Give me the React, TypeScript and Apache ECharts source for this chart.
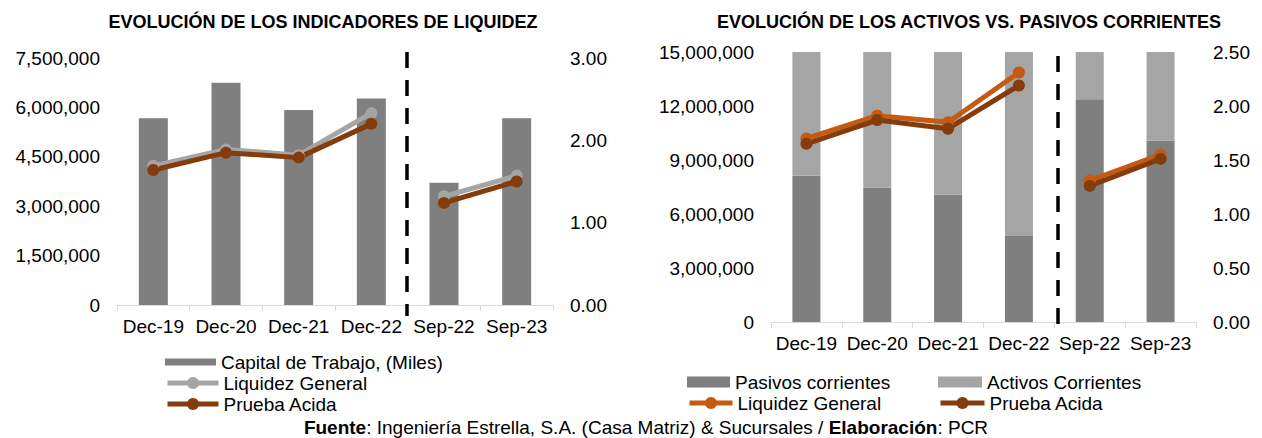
import React, { useEffect, useRef } from 'react';
import * as echarts from 'echarts';

const categories = ['Dec-19', 'Dec-20', 'Dec-21', 'Dec-22', 'Sep-22', 'Sep-23'];

// Left chart: Evolución de los indicadores de liquidez
const capitalTrabajo = [5670000, 6750000, 5920000, 6270000, 3710000, 5670000];
const liquidezGeneralL = [1.69, 1.89, 1.82, 2.33, 1.32, 1.57];
const pruebaAcidaL = [1.64, 1.85, 1.79, 2.2, 1.24, 1.5];

// Right chart: Evolución de los activos vs. pasivos corrientes
const pasivosCorrientes = [8130000, 7460000, 7090000, 4780000, 12370000, 10070000];
const activosCorrientes = [13800000, 14200000, 13100000, 11000000, 16200000, 15600000];
const liquidezGeneralR = [1.7, 1.91, 1.85, 2.31, 1.31, 1.55];
const pruebaAcidaR = [1.65, 1.87, 1.79, 2.19, 1.26, 1.51];

const titleLeft = 'EVOLUCIÓN DE LOS INDICADORES DE LIQUIDEZ';
const titleRight = 'EVOLUCIÓN DE LOS ACTIVOS VS. PASIVOS CORRIENTES';

const FONT = "'Liberation Sans', Arial, sans-serif";
const SPLIT = 4;

const before = (a: number[]) => a.map((v, i) => (i < SPLIT ? v : '-'));
const after = (a: number[]) => a.map((v, i) => (i >= SPLIT ? v : '-'));

const fmtThousands = (v: number) => Math.round(v).toLocaleString('en-US');
const fmt2 = (v: number) => v.toFixed(2);

export default function App() {
  const ref = useRef<HTMLDivElement>(null);

  useEffect(() => {
    if (!ref.current) return;
    const chart = echarts.init(ref.current, undefined, { renderer: 'svg' });

    const xAxisBase = (gridIndex: number) => ({
      type: 'category',
      gridIndex,
      data: categories,
      axisLine: { show: true, lineStyle: { color: '#D9D9D9', width: 1 } },
      axisTick: { show: true, length: 6, lineStyle: { color: '#D9D9D9' } },
      axisLabel: { fontSize: 19, color: '#000', fontFamily: FONT, margin: 12, interval: 0 },
      splitLine: { show: false },
    });

    const yAxisBase = (gridIndex: number, max: number, interval: number, formatter: any) => ({
      type: 'value',
      gridIndex,
      min: 0,
      max,
      interval,
      axisLine: { show: false },
      axisTick: { show: false },
      splitLine: { show: false },
      axisLabel: { fontSize: 19, color: '#000', fontFamily: FONT, margin: 17, formatter },
    });

    const lineSeries = (
      name: string,
      data: any[],
      color: string,
      xAxisIndex: number,
      yAxisIndex: number
    ) => ({
      type: 'line',
      name,
      data,
      xAxisIndex,
      yAxisIndex,
      symbol: 'circle',
      symbolSize: 12,
      showSymbol: true,
      connectNulls: false,
      lineStyle: { color, width: 5 },
      itemStyle: { color },
    });

    const legendItem = (name: string, left: number, cy: number, itemWidth: number, itemHeight: number, icon?: string) => {
      const lg: any = {
        data: [name],
        left,
        top: cy - 10,
        orient: 'vertical',
        padding: 0,
        itemGap: 0,
        itemWidth,
        itemHeight,
        selectedMode: false,
        formatter: (n: string) => n.split('|')[0],
        lineStyle: { width: 5 },
        textStyle: { fontSize: 19, color: '#000', fontFamily: FONT, lineHeight: 20, padding: [0, 0, 0, 0] },
      };
      if (icon) lg.icon = icon;
      return lg;
    };

    const option: any = {
      animation: false,
      backgroundColor: '#fff',
      title: [
        {
          text: titleLeft,
          left: 318,
          top: 7,
          textAlign: 'center',
          textStyle: { fontSize: 18, fontWeight: 'bold', color: '#000', fontFamily: FONT, lineHeight: 20 },
        },
        {
          text: titleRight,
          left: 964,
          top: 7,
          textAlign: 'center',
          textStyle: { fontSize: 18, fontWeight: 'bold', color: '#000', fontFamily: FONT, lineHeight: 20 },
        },
      ],
      legend: [
        legendItem('Capital de Trabajo, (Miles)', 165, 362, 51, 7, 'rect'),
        legendItem('Liquidez General|L', 165, 383, 51, 15),
        legendItem('Prueba Acida|L', 165, 404, 51, 15),
        legendItem('Pasivos corrientes|R', 687, 382, 43, 11, 'rect'),
        legendItem('Activos Corrientes|R', 938, 382, 44, 11, 'rect'),
        legendItem('Liquidez General|R', 687, 403, 43, 15),
        legendItem('Prueba Acida|R', 938, 403, 44, 15),
      ],
      grid: [
        { left: 117, top: 58, width: 436, height: 247 },
        { left: 771, top: 52, width: 425, height: 270 },
      ],
      xAxis: [xAxisBase(0), xAxisBase(1)],
      yAxis: [
        yAxisBase(0, 7500000, 1500000, fmtThousands),
        yAxisBase(0, 3, 1, fmt2),
        yAxisBase(1, 15000000, 3000000, fmtThousands),
        yAxisBase(1, 2.5, 0.5, fmt2),
      ],
      series: [
        {
          type: 'bar',
          name: 'Capital de Trabajo, (Miles)',
          data: capitalTrabajo,
          xAxisIndex: 0,
          yAxisIndex: 0,
          barWidth: 29,
          itemStyle: { color: '#7F7F7F' },
        },
        lineSeries('Liquidez General|L', before(liquidezGeneralL), '#A5A5A5', 0, 1),
        lineSeries('Liquidez General|L', after(liquidezGeneralL), '#A5A5A5', 0, 1),
        lineSeries('Prueba Acida|L', before(pruebaAcidaL), '#843C0C', 0, 1),
        lineSeries('Prueba Acida|L', after(pruebaAcidaL), '#843C0C', 0, 1),
        {
          type: 'bar',
          name: 'Pasivos corrientes|R',
          data: pasivosCorrientes,
          xAxisIndex: 1,
          yAxisIndex: 2,
          stack: 'ap',
          barWidth: 28,
          clip: true,
          itemStyle: { color: '#7F7F7F' },
        },
        {
          type: 'bar',
          name: 'Activos Corrientes|R',
          data: activosCorrientes,
          xAxisIndex: 1,
          yAxisIndex: 2,
          stack: 'ap',
          barWidth: 28,
          clip: true,
          itemStyle: { color: '#A5A5A5' },
        },
        lineSeries('Liquidez General|R', before(liquidezGeneralR), '#C55A11', 1, 3),
        lineSeries('Liquidez General|R', after(liquidezGeneralR), '#C55A11', 1, 3),
        lineSeries('Prueba Acida|R', before(pruebaAcidaR), '#843C0C', 1, 3),
        lineSeries('Prueba Acida|R', after(pruebaAcidaR), '#843C0C', 1, 3),
      ],
      graphic: [
        {
          type: 'line',
          shape: { x1: 407, y1: 52, x2: 407, y2: 316 },
          style: { stroke: '#000', lineWidth: 3.5, lineDash: [16, 12] },
          z: 100,
        },
        {
          type: 'line',
          shape: { x1: 1058, y1: 56, x2: 1058, y2: 325 },
          style: { stroke: '#000', lineWidth: 3.5, lineDash: [16, 12] },
          z: 100,
        },
        {
          type: 'text',
          x: 646,
          y: 427,
          style: {
            text: '{b|Fuente}: Ingeniería Estrella, S.A. (Casa Matriz) & Sucursales / {b|Elaboración}: PCR',
            align: 'center',
            verticalAlign: 'middle',
            fontSize: 19,
            fontFamily: FONT,
            fill: '#000',
            rich: {
              b: { fontWeight: 'bold', fontSize: 19, fontFamily: FONT, fill: '#000' },
            },
          },
        },
      ],
    };

    chart.setOption(option);
    return () => chart.dispose();
  }, []);

  return (
    <div
      ref={ref}
      style={{ position: 'fixed', left: 0, top: 0, width: 1262, height: 438, background: '#fff' }}
    />
  );
}
